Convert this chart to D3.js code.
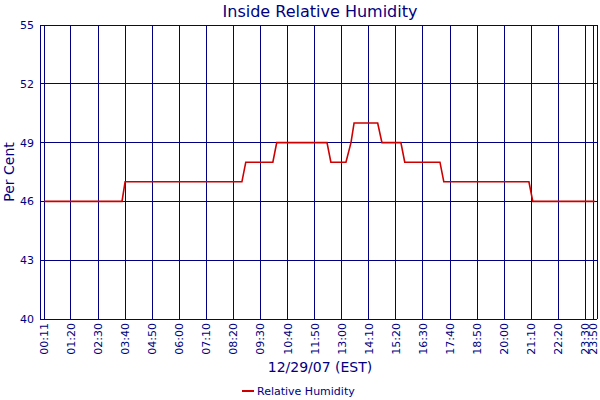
<!DOCTYPE html>
<html><head><meta charset="utf-8">
<script src="https://cdn.jsdelivr.net/npm/d3@7"></script>
<style>body{margin:0;background:#fff}text{font-family:"DejaVu Sans",Verdana,sans-serif;fill:#000080}</style>
</head><body><svg id="c" width="600" height="400"></svg>
<script>
// minutes after midnight and humidity (%)
var times = [11, 212, 220, 522, 532, 602, 612, 742, 752, 791, 804, 812, 873, 884, 933, 943, 1034, 1044, 1264, 1274, 1434];
var values = [46, 46, 47, 47, 48, 48, 49, 49, 48, 48, 49, 50, 50, 49, 49, 48, 48, 47, 47, 46, 46];
var tickMinutes = [11, 80, 150, 220, 290, 360, 430, 500, 570, 640, 710, 780, 850, 920, 990, 1060, 1130, 1200, 1270, 1340, 1410, 1430];
var tickLabels = ['00:11','01:20','02:30','03:40','04:50','06:00','07:10','08:20','09:30','10:40','11:50','13:00','14:10','15:20','16:30','17:40','18:50','20:00','21:10','22:20','23:30','23:50'];
var yTicks = [40, 43, 46, 49, 52, 55];

var svg = d3.select('#c');
var x = d3.scaleLinear().domain([0, 1440]).range([40, 597]);
var y = d3.scaleLinear().domain([40, 55]).range([319, 25]);
var navy = '#000080';

// grid
svg.selectAll('.vg').data(tickMinutes).enter().append('line')
    .attr('x1', d => x(d)).attr('x2', d => x(d)).attr('y1', 25).attr('y2', 319)
    .attr('stroke', navy).attr('stroke-width', 1).attr('shape-rendering', 'crispEdges');
svg.selectAll('.hg').data(yTicks).enter().append('line')
    .attr('x1', 40).attr('x2', 597).attr('y1', d => y(d)).attr('y2', d => y(d))
    .attr('stroke', navy).attr('stroke-width', 1).attr('shape-rendering', 'crispEdges');
svg.append('line').attr('x1', 40).attr('x2', 40).attr('y1', 25).attr('y2', 319)
    .attr('stroke', navy).attr('shape-rendering', 'crispEdges');
svg.append('line').attr('x1', 597).attr('x2', 597).attr('y1', 25).attr('y2', 319)
    .attr('stroke', navy).attr('shape-rendering', 'crispEdges');

// y labels
svg.selectAll('.yl').data(yTicks).enter().append('text')
    .attr('x', 34).attr('y', d => y(d) + 4).attr('text-anchor', 'end')
    .attr('font-size', 11).text(d => d);

// x labels
svg.selectAll('.xl').data(tickMinutes).enter().append('text')
    .attr('transform', (d, i) => 'translate(' + (x(d) + 4) + ',323) rotate(-90)')
    .attr('text-anchor', 'end').attr('font-size', 11)
    .text((d, i) => tickLabels[i]);

// series
var pts = times.map((t, i) => [t, values[i]]);
svg.append('path').datum(pts)
    .attr('d', d3.line().x(d => x(d[0])).y(d => y(d[1])))
    .attr('fill', 'none').attr('stroke', '#cc0000').attr('stroke-width', 1.6);

// titles
svg.append('text').attr('x', 320).attr('y', 17).attr('text-anchor', 'middle')
    .attr('font-size', 16).text('Inside Relative Humidity');
svg.append('text').attr('transform', 'translate(14,172) rotate(-90)').attr('text-anchor', 'middle')
    .attr('font-size', 14).text('Per Cent');
svg.append('text').attr('x', 320).attr('y', 372).attr('text-anchor', 'middle')
    .attr('font-size', 14).text('12/29/07 (EST)');

// legend
svg.append('line').attr('x1', 242).attr('x2', 254).attr('y1', 391).attr('y2', 391)
    .attr('stroke', '#cc0000').attr('stroke-width', 2);
svg.append('text').attr('x', 257).attr('y', 395).attr('font-size', 11).text('Relative Humidity');
</script></body></html>
